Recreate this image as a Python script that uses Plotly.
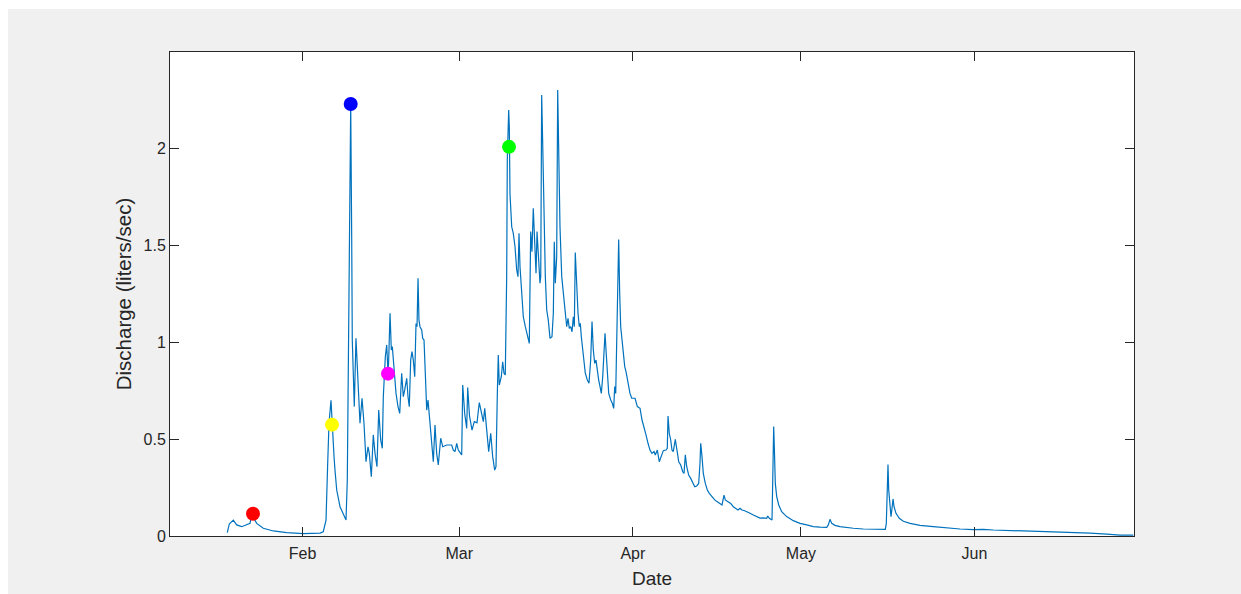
import pandas as pd
import plotly.graph_objects as go

# Discharge record (days since 1 Jan 2019, liters/sec)
day_of_year = [
    17.57, 17.93, 18.64, 19.25, 20.14, 21.04, 21.63, 21.80, 22.16, 22.82,
    24.00, 25.79, 28.18, 31.14, 34.13, 34.71, 35.20, 35.50, 35.73, 36.09,
    36.27, 36.45, 36.63, 36.80, 37.11, 37.70, 38.41, 38.77, 39.00, 39.18,
    39.48, 39.61, 39.79, 39.89, 40.07, 40.25, 40.55, 40.79, 41.04, 41.27,
    41.63, 41.98, 42.34, 42.70, 42.93, 43.29, 43.64, 43.95, 44.30, 44.61,
    44.96, 45.25, 45.43, 45.79, 46.04, 46.27, 46.39, 46.63, 46.86, 47.04,
    47.34, 47.70, 48.05, 48.36, 48.71, 49.00, 49.25, 49.61, 49.84, 50.07,
    50.32, 50.55, 50.79, 51.04, 51.27, 51.45, 51.63, 51.80, 51.98, 52.29,
    52.46, 52.70, 52.93, 53.18, 53.41, 53.64, 54.00, 54.36, 54.66, 54.96,
    55.25, 55.68, 56.04, 56.75, 57.64, 57.93, 58.23, 58.54, 58.82, 59.43,
    59.61, 59.96, 60.32, 60.50, 60.82, 61.27, 61.68, 62.16, 62.57, 62.93,
    63.29, 63.54, 63.89, 64.25, 64.61, 64.96, 65.32, 65.55, 65.79, 65.96,
    66.14, 66.50, 66.75, 66.98, 67.21, 67.46, 67.57, 67.70, 67.82, 67.93,
    68.05, 68.36, 68.64, 68.95, 69.25, 69.48, 69.66, 69.84, 70.14, 70.43,
    70.79, 71.14, 71.50, 71.75, 71.98, 72.21, 72.46, 72.70, 72.88, 73.11,
    73.41, 73.54, 73.71, 73.89, 74.13, 74.36, 74.61, 74.89, 75.20, 75.55,
    75.79, 75.96, 76.14, 76.39, 76.57, 76.75, 76.98, 77.29, 77.57, 77.88,
    78.18, 78.41, 78.64, 78.89, 79.13, 79.36, 79.54, 79.71, 79.96, 80.20,
    80.43, 80.61, 80.79, 81.14, 81.50, 81.86, 82.16, 82.46, 82.70, 82.93,
    83.18, 83.41, 83.64, 83.89, 84.13, 84.36, 84.61, 84.84, 85.02, 85.20,
    85.43, 85.68, 86.04, 86.32, 86.57, 86.75, 86.93, 87.11, 87.29, 87.46,
    87.64, 87.82, 88.18, 88.54, 88.77, 89.13, 89.48, 89.79, 90.38, 90.79,
    91.27, 91.63, 91.98, 92.34, 92.70, 93.05, 93.41, 93.77, 94.00, 94.36,
    94.71, 95.07, 95.43, 95.91, 96.14, 96.27, 96.50, 96.75, 96.98, 97.21,
    97.57, 97.82, 98.18, 98.54, 98.89, 99.13, 99.36, 99.61, 99.96, 100.32,
    100.68, 101.04, 101.39, 101.75, 101.98, 102.11, 102.34, 102.57, 102.93, 103.29,
    103.64, 104.13, 104.61, 105.07, 105.55, 105.91, 106.27, 106.50, 106.98, 107.46,
    107.93, 108.41, 108.77, 109.13, 109.48, 109.96, 110.43, 110.91, 111.50, 112.11,
    112.70, 113.29, 113.89, 114.07, 114.36, 114.84, 115.02, 115.14, 115.25, 115.43,
    115.68, 116.04, 116.57, 117.46, 118.64, 119.84, 121.04, 122.21, 123.41, 124.61,
    124.89, 125.20, 125.50, 126.09, 126.98, 128.18, 129.36, 131.14, 132.93, 134.71,
    135.07, 135.25, 135.43, 135.55, 135.68, 135.91, 136.09, 136.27, 136.45, 136.63,
    136.98, 137.57, 138.29, 139.48, 141.27, 143.64, 146.04, 148.41, 150.79, 152.57,
    154.36, 156.75, 159.71, 162.70, 165.68, 168.64, 171.63, 174.61, 176.98, 179.36,
]
discharge = [
    0.017, 0.062, 0.082, 0.057, 0.048, 0.057, 0.065, 0.091, 0.100, 0.065,
    0.040, 0.026, 0.017, 0.012, 0.015, 0.022, 0.082, 0.375, 0.580, 0.700,
    0.574, 0.460, 0.410, 0.340, 0.237, 0.151, 0.100, 0.082, 0.290, 0.800,
    1.526, 2.227, 1.526, 1.010, 0.839, 0.667, 1.019, 0.839, 0.718, 0.581,
    0.710, 0.581, 0.383, 0.460, 0.426, 0.306, 0.521, 0.426, 0.357, 0.649,
    0.495, 0.452, 0.718, 0.924, 0.985, 0.839, 0.907, 1.148, 0.959, 0.976,
    0.839, 0.735, 0.667, 0.632, 0.839, 0.718, 0.753, 0.813, 0.718, 0.667,
    0.907, 0.950, 0.907, 0.821, 1.096, 1.079, 1.328, 1.113, 1.079, 1.062,
    1.019, 1.010, 0.839, 0.649, 0.701, 0.615, 0.495, 0.383, 0.572, 0.426,
    0.366, 0.504, 0.460, 0.469, 0.469, 0.443, 0.435, 0.478, 0.443, 0.418,
    0.778, 0.632, 0.555, 0.765, 0.620, 0.546, 0.590, 0.583, 0.688, 0.632,
    0.589, 0.658, 0.564, 0.435, 0.529, 0.409, 0.340, 0.357, 0.735, 0.933,
    0.778, 0.821, 0.898, 0.839, 0.830, 1.337, 1.938, 2.119, 2.196, 2.110,
    1.766, 1.594, 1.560, 1.491, 1.371, 1.337, 1.560, 1.388, 1.251, 1.130,
    1.079, 1.027, 0.993, 1.569, 1.466, 1.689, 1.491, 1.354, 1.569, 1.423,
    1.303, 1.337, 2.273, 2.024, 1.594, 1.337, 1.165, 1.113, 1.019, 1.027,
    1.148, 1.517, 1.303, 1.440, 2.299, 1.938, 1.594, 1.337, 1.251, 1.165,
    1.079, 1.122, 1.070, 1.079, 1.053, 1.130, 1.079, 1.461, 1.251, 1.148,
    1.079, 1.096, 1.027, 0.942, 0.839, 0.804, 0.787, 0.907, 1.105, 0.959,
    0.890, 0.907, 0.839, 0.804, 0.770, 0.735, 0.821, 0.924, 1.045, 0.959,
    0.839, 0.735, 0.701, 0.684, 0.658, 0.770, 0.735, 0.976, 1.354, 1.529,
    1.251, 1.079, 0.976, 0.873, 0.847, 0.778, 0.735, 0.710, 0.710, 0.667,
    0.658, 0.598, 0.564, 0.521, 0.478, 0.443, 0.426, 0.435, 0.418, 0.443,
    0.383, 0.418, 0.440, 0.443, 0.452, 0.619, 0.529, 0.495, 0.443, 0.435,
    0.498, 0.452, 0.383, 0.366, 0.331, 0.323, 0.418, 0.357, 0.314, 0.297,
    0.271, 0.254, 0.258, 0.271, 0.375, 0.478, 0.409, 0.323, 0.271, 0.237,
    0.220, 0.203, 0.186, 0.177, 0.168, 0.160, 0.211, 0.186, 0.177, 0.168,
    0.151, 0.143, 0.134, 0.143, 0.134, 0.130, 0.125, 0.117, 0.108, 0.098,
    0.092, 0.093, 0.091, 0.103, 0.091, 0.082, 0.289, 0.564, 0.460, 0.271,
    0.203, 0.160, 0.125, 0.100, 0.079, 0.065, 0.057, 0.048, 0.046, 0.045,
    0.057, 0.086, 0.065, 0.055, 0.048, 0.043, 0.040, 0.036, 0.034, 0.033,
    0.034, 0.065, 0.203, 0.369, 0.237, 0.134, 0.100, 0.143, 0.191, 0.151,
    0.117, 0.091, 0.076, 0.065, 0.055, 0.048, 0.041, 0.036, 0.033, 0.034,
    0.031, 0.029, 0.027, 0.024, 0.021, 0.019, 0.015, 0.010, 0.005, 0.004,
]

# Sampling events highlighted on the hydrograph
event_day = [22.16, 36.27, 39.61, 46.27, 67.88]
event_discharge = [0.115, 0.574, 2.227, 0.837, 2.006]
event_colors = ["#ff0000", "#ffff00", "#0000ff", "#ff00ff", "#00ff00"]

month_ticks = ["2019-02-01", "2019-03-01", "2019-04-01", "2019-05-01", "2019-06-01"]
month_labels = ["Feb", "Mar", "Apr", "May", "Jun"]
y_ticks = [0, 0.5, 1, 1.5, 2]
y_labels = ["0", "0.5", "1", "1.5", "2"]

start = pd.Timestamp("2019-01-01")
to_date = lambda d: start + pd.to_timedelta(pd.Series(d), unit="D")

fig = go.Figure()
fig.add_trace(go.Scatter(
    x=to_date(day_of_year), y=discharge, mode="lines",
    line=dict(color="#0072bd", width=1.2), showlegend=False,
))
for d, q, c in zip(event_day, event_discharge, event_colors):
    fig.add_trace(go.Scatter(
        x=to_date([d]), y=[q], mode="markers",
        marker=dict(color=c, size=14, line=dict(color=c, width=0)),
        showlegend=False,
    ))

axis_color = "#262626"
font_family = "Arial, Liberation Sans, Helvetica, sans-serif"
common = dict(
    showline=True, linecolor=axis_color, linewidth=1, mirror="allticks",
    ticks="inside", ticklen=9, tickwidth=1, tickcolor=axis_color,
    showgrid=False, zeroline=False, automargin=False,
    tickfont=dict(family=font_family, size=16, color=axis_color),
)

fig.update_layout(
    width=1241, height=594,
    margin=dict(l=170, r=107, t=52, b=58),
    paper_bgcolor="#f0f0f0", plot_bgcolor="#ffffff",
    xaxis=dict(
        range=[start + pd.Timedelta(days=7.34), start + pd.Timedelta(days=179.48)],
        tickvals=pd.to_datetime(month_ticks), ticktext=month_labels,
        ticklabelstandoff=3,
        title=dict(text="Date", font=dict(family=font_family, size=19, color=axis_color), standoff=10),
        **common,
    ),
    yaxis=dict(
        range=[0, 2.495], tickvals=y_ticks, ticktext=y_labels,
        title=dict(text="Discharge (liters/sec)", font=dict(family=font_family, size=20.5, color=axis_color), standoff=6),
        **common,
    ),
    shapes=[
        # white page border above and left of the figure panel
        dict(type="rect", xref="paper", yref="paper", x0=-0.2, x1=1.2, y0=1.0888, y1=1.2,
             fillcolor="#ffffff", line=dict(width=0), layer="below"),
        dict(type="rect", xref="paper", yref="paper", x0=-0.2, x1=-0.1680, y0=-0.2, y1=1.2,
             fillcolor="#ffffff", line=dict(width=0), layer="below"),
    ],
)

fig.write_html("out.html")
